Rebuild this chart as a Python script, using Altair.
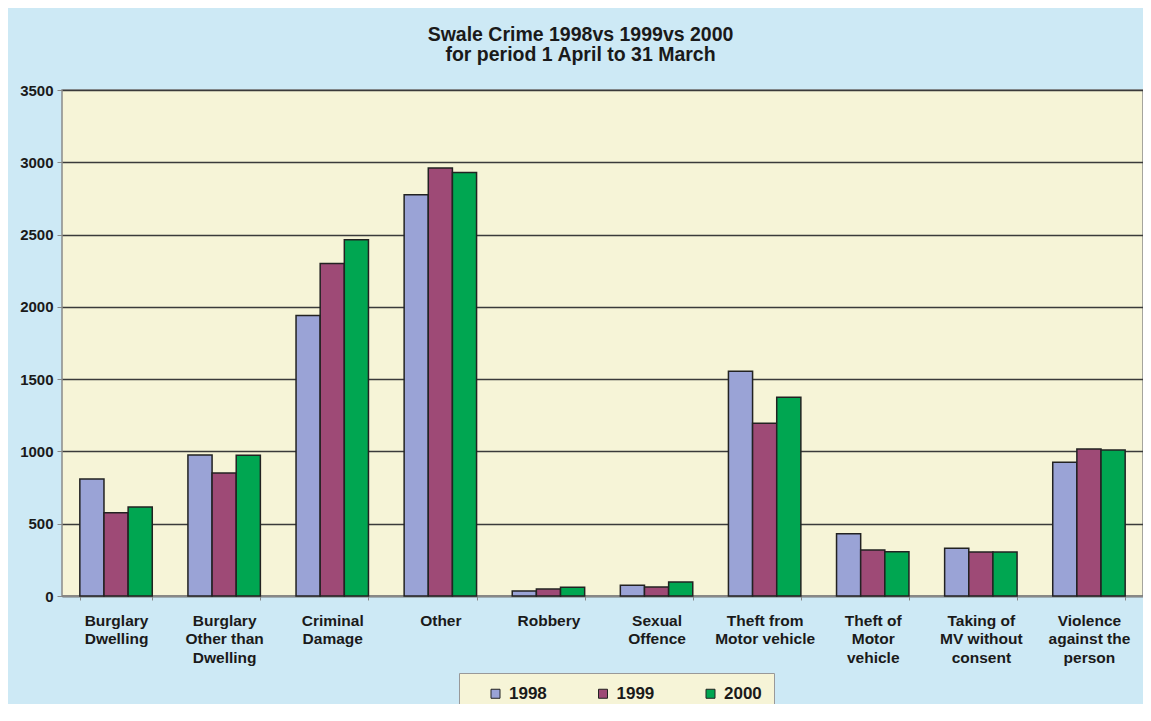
import altair as alt
import pandas as pd

categories = ["Burglary|Dwelling", "Burglary|Other than|Dwelling", "Criminal|Damage", "Other",
              "Robbery", "Sexual|Offence", "Theft from|Motor vehicle", "Theft of|Motor|vehicle",
              "Taking of|MV without|consent", "Violence|against the|person"]
years = ["1998", "1999", "2000"]
v1998 = [810, 975, 1940, 2775, 35, 75, 1555, 430, 330, 925]
v1999 = [575, 850, 2300, 2960, 48, 62, 1195, 318, 304, 1017]
v2000 = [615, 973, 2465, 2930, 60, 97, 1375, 306, 304, 1010]
colors = ["#9aa3d6", "#9e4a76", "#00a651"]
y_ticks = [0, 500, 1000, 1500, 2000, 2500, 3000, 3500]

rows = []
for yr, vals in zip(years, [v1998, v1999, v2000]):
    for c, v in zip(categories, vals):
        rows.append({"category": c, "year": yr, "value": v})
df = pd.DataFrame(rows)

FONT = "Liberation Sans"

chart = alt.Chart(df).mark_bar(stroke="#222222", strokeWidth=1.5).encode(
    x=alt.X("category:N", sort=categories,
            scale=alt.Scale(paddingInner=0.33, paddingOuter=0.165),
            axis=alt.Axis(title=None, labelAngle=0, labelExpr="split(datum.label, '|')",
                          labelFont=FONT, labelFontSize=15.5, labelFontWeight="bold",
                          labelColor="#1a1a1a", labelLineHeight=18.5, labelPadding=13,
                          tickBand="extent", ticks=True, tickSize=4, tickColor="#888888",
                          domainColor="#888888", domainWidth=1.5, grid=False)),
    xOffset=alt.XOffset("year:N", sort=years),
    y=alt.Y("value:Q", scale=alt.Scale(domain=[0, 3500], nice=False),
            axis=alt.Axis(title=None, values=y_ticks, format="d",
                          labelFont=FONT, labelFontSize=15, labelFontWeight="bold",
                          labelColor="#1a1a1a", labelPadding=4, tickSize=5,
                          tickColor="#888888", domain=False,
                          grid=True, gridColor="#3a3a3a", gridWidth=1.5)),
    color=alt.Color("year:N", scale=alt.Scale(domain=years, range=colors),
                    legend=alt.Legend(title=None, orient="none", legendX=397, legendY=583,
                                      direction="horizontal", symbolType="square",
                                      symbolSize=81, symbolStrokeColor="#222222",
                                      symbolStrokeWidth=1, symbolOffset=16,
                                      labelFont=FONT, labelFontSize=17, labelFontWeight="bold",
                                      labelColor="#1a1a1a", labelOffset=5,
                                      columnPadding=31.5, padding=12,
                                      fillColor="#f6f4d7", strokeColor="#999999")),
).properties(
    width=1081, height=506,
    title=alt.TitleParams(["Swale Crime 1998vs 1999vs 2000", "for period 1 April to 31 March"],
                          font=FONT, fontSize=19.5, fontWeight="bold", color="#1a1a1a",
                          lineHeight=20, anchor="middle", dx=-22, offset=18),
    autosize=alt.AutoSizeParams(type="none"),
    padding={"left": 54, "top": 82, "right": 0, "bottom": 108},
    background="#cde9f5",
).configure_view(fill="#f6f4d7", stroke="#8a8a8a", strokeWidth=1.5)

chart.save("out.html", embed_options={"renderer": "svg", "actions": False})
